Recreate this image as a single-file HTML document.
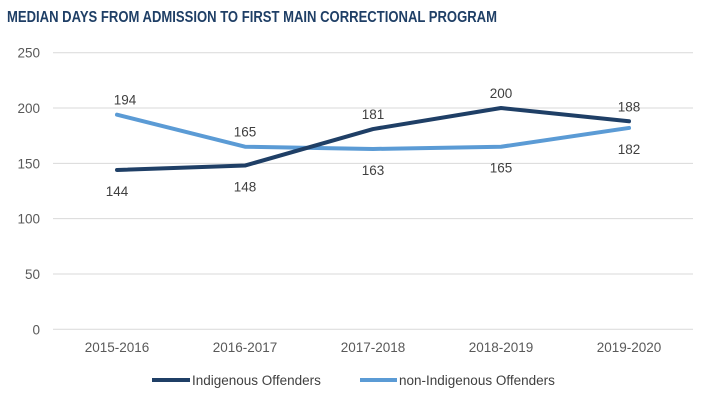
<!DOCTYPE html>
<html><head><meta charset="utf-8"><style>
body{margin:0;background:#fff;}
svg{display:block;font-family:"Liberation Sans",Arial,sans-serif;}
</style></head><body>
<svg id="chart" width="707" height="402" viewBox="0 0 707 402">
<text x="7" y="22" font-size="16" font-weight="bold" fill="#1f3f66" textLength="490" lengthAdjust="spacingAndGlyphs">MEDIAN DAYS FROM ADMISSION TO FIRST MAIN CORRECTIONAL PROGRAM</text>
<g id="grid"></g><g id="lines"></g><g id="labels"></g>
<g>
<line x1="152" y1="380" x2="190" y2="380" stroke="#1f3f66" stroke-width="4"/>
<text x="192" y="385" font-size="13.5" fill="#404040">Indigenous Offenders</text>
<line x1="360" y1="380" x2="397" y2="380" stroke="#5b9bd5" stroke-width="4"/>
<text x="399" y="385" font-size="13.5" fill="#404040">non-Indigenous Offenders</text>
</g>
</svg>
<script>
const categories=["2015-2016","2016-2017","2017-2018","2018-2019","2019-2020"];
const indigenous=[144,148,181,200,188];
const nonIndigenous=[194,165,163,165,182];
const yTicks=[0,50,100,150,200,250];
const NS="http://www.w3.org/2000/svg";
const L=53,R=693,T=52.7,B=329.3,YMAX=250;
const x=i=>L+(R-L)/categories.length*(i+0.5);
const y=v=>B-(B-T)*v/YMAX;
function mk(tag,attrs,parent,txt){const e=document.createElementNS(NS,tag);for(const k in attrs)e.setAttribute(k,attrs[k]);if(txt!==undefined)e.textContent=txt;document.getElementById(parent).appendChild(e);return e;}
yTicks.forEach(t=>{
  const g=mk("line",{x1:L,x2:R,y1:y(t),y2:y(t),stroke:"#d9d9d9","stroke-width":1},"grid");
  
  
  const lb=mk("text",{x:40,y:y(t)+5,"text-anchor":"end","font-size":13.5,fill:"#595959"},"grid",t);
  
  
});
categories.forEach((c,i)=>{
  const lb=mk("text",{x:x(i),y:352,"text-anchor":"middle","font-size":13.5,fill:"#595959"},"grid",c);
  
  
});
function series(vals,color,name){
  const p=mk("polyline",{points:vals.map((v,i)=>x(i)+","+y(v)).join(" "),fill:"none",stroke:color,"stroke-width":4,"stroke-linejoin":"round","stroke-linecap":"round"},"lines");
  
  
}
series(nonIndigenous,"#5b9bd5","non-indigenous-line");
series(indigenous,"#1f3f66","indigenous-line");
indigenous.forEach((v,i)=>{
  const above=v>=nonIndigenous[i];
  const t=mk("text",{x:x(i),y:above?y(v)-10:y(v)+26,"text-anchor":"middle","font-size":13.5,fill:"#404040"},"labels",v);
  
  
});
nonIndigenous.forEach((v,i)=>{
  const above=v>indigenous[i];
  const t=mk("text",{x:x(i)+(i==0?8:0),y:above?y(v)-10:y(v)+26,"text-anchor":"middle","font-size":13.5,fill:"#404040"},"labels",v);
  
  
});
</script>
</body></html>
